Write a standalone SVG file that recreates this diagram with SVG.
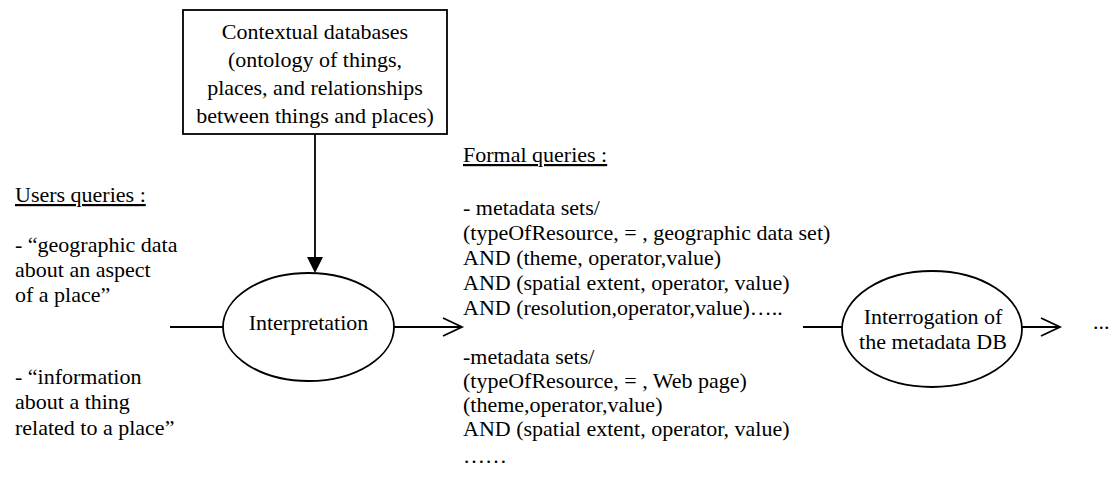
<svg xmlns="http://www.w3.org/2000/svg" width="1119" height="478" viewBox="0 0 1119 478" font-family="'Liberation Serif','Times New Roman',Times,'DejaVu Serif',serif" font-size="22">
<style>
text{font-family:'Liberation Serif','Times New Roman',Times,'DejaVu Serif',serif;font-size:22px;fill:#000}
.c{text-anchor:middle}
.u{text-decoration:underline}
.s{fill:none;stroke:#000;stroke-width:1.8}
</style>
<rect width="1119" height="478" fill="#fff"/>
<g id="contextual-databases">
<rect class="s" x="183" y="10" width="264" height="124"/>
<text class="c" x="315" y="39">Contextual databases</text>
<text class="c" x="315" y="67">(ontology of things,</text>
<text class="c" x="315" y="95">places, and relationships</text>
<text class="c" x="315" y="123">between things and places)</text>
</g>
<g id="users-queries">
<text class="u" x="15" y="202">Users queries :</text>
<text x="15" y="252">- “geographic data</text>
<text x="15" y="277">about an aspect</text>
<text x="15" y="302">of a place”</text>
<text x="15" y="384">- “information</text>
<text x="15" y="409">about a thing</text>
<text x="15" y="435">related to a place”</text>
</g>
<g id="interpretation">
<ellipse class="s" cx="308.5" cy="327" rx="85.5" ry="54"/>
<text class="c" x="308.5" y="330">Interpretation</text>
</g>
<g id="formal-queries">
<text class="u" x="463" y="162">Formal queries :</text>
<text x="463" y="215">- metadata sets/</text>
<text x="463" y="240">(typeOfResource, = , geographic data set)</text>
<text x="463" y="265">AND (theme, operator,value)</text>
<text x="463" y="290">AND (spatial extent, operator, value)</text>
<text x="463" y="315">AND (resolution,operator,value)…..</text>
<text x="463" y="364">-metadata sets/</text>
<text x="463" y="388">(typeOfResource, = , Web page)</text>
<text x="463" y="412">(theme,operator,value)</text>
<text x="463" y="436">AND (spatial extent, operator, value)</text>
<text x="463" y="463">……</text>
</g>
<g id="interrogation">
<ellipse class="s" cx="932" cy="329" rx="90" ry="58"/>
<text class="c" x="933" y="324">Interrogation of</text>
<text class="c" x="933" y="349">the metadata DB</text>
</g>
<g id="continuation">
<text x="1093" y="329">...</text>
</g>
<g id="connectors">
<line class="s" x1="315" y1="134" x2="315" y2="258"/>
<polygon points="307,257 323,257 315,273" fill="#000"/>
<line class="s" x1="170" y1="327" x2="223" y2="327"/>
<line class="s" x1="394" y1="327" x2="461" y2="327"/>
<polyline class="s" points="443,318 462,327 443,336"/>
<line class="s" x1="803" y1="327" x2="842" y2="327"/>
<line class="s" x1="1022" y1="327" x2="1059" y2="327"/>
<polyline class="s" points="1041,318 1060,327 1041,336"/>
</g>
</svg>
